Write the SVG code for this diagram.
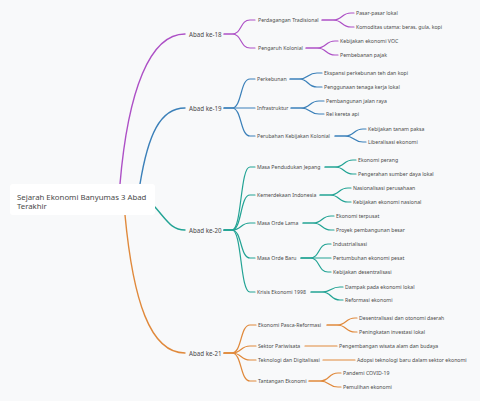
<svg xmlns="http://www.w3.org/2000/svg" width="480" height="401" viewBox="0 0 480 401">
<style>
text{font-family:"Noto Sans","DejaVu Sans",sans-serif;fill:#4a4a4a;dominant-baseline:central}
.t0{font-size:7.8px}
.t1{font-size:6.2px}
.t2{font-size:5.2px}
.t3{font-size:5.2px}
path{fill:none;stroke-linecap:round}
.p{stroke:#ad50c6}
.b{stroke:#3b80b9}
.g{stroke:#22a394}
.o{stroke:#e0893b}
.l1{stroke-width:1.4}
.l2{stroke-width:1.2}
</style>
<rect width="480" height="401" fill="#f8f9fa"/>
<g id="connectors">
<path class="p l1" d="M120 184 C128 90,150 34,185 34"/>
<path class="b l1" d="M140 184 C148 135,160 108,185 108"/>
<path class="g l1" d="M155 207 C168 222,172 230,185 230"/>
<path class="o l1" d="M125 215 C133 300,150 353,185 353"/>
<path class="p l2" d="M224 34 H232 C242 34,240 20,250 20 H255"/>
<path class="p l2" d="M224 34 H232 C242 34,240 48,250 48 H255"/>
<path class="p l2" d="M322 20 H333 C343 20,341 13,351 13 H354"/>
<path class="p l2" d="M322 20 H333 C343 20,341 27,351 27 H354"/>
<path class="p l2" d="M306 48 H317 C327 48,325 41,335 41 H338"/>
<path class="p l2" d="M306 48 H317 C327 48,325 55,335 55 H338"/>
<path class="b l2" d="M224 108 H232 C242 108,240 79,250 79 H255"/>
<path class="b l2" d="M224 108 H255"/>
<path class="b l2" d="M224 108 H232 C242 108,240 136,250 136 H255"/>
<path class="b l2" d="M290 79 H299 C309 79,307 73,317 73 H322"/>
<path class="b l2" d="M290 79 H299 C309 79,307 87,317 87 H322"/>
<path class="b l2" d="M291 108 H301 C311 108,309 101,319 101 H324"/>
<path class="b l2" d="M291 108 H301 C311 108,309 114,319 114 H324"/>
<path class="b l2" d="M335 136 H345 C355 136,353 129,363 129 H366"/>
<path class="b l2" d="M335 136 H345 C355 136,353 142,363 142 H366"/>
<path class="g l2" d="M224 230 H232 C242 230,240 167,250 167 H255"/>
<path class="g l2" d="M224 230 H232 C242 230,240 195,250 195 H255"/>
<path class="g l2" d="M224 230 H232 C242 230,240 223,250 223 H255"/>
<path class="g l2" d="M224 230 H232 C242 230,240 258,250 258 H255"/>
<path class="g l2" d="M224 230 H232 C242 230,240 292,250 292 H255"/>
<path class="g l2" d="M325 167 H335 C345 167,343 160,353 160 H356"/>
<path class="g l2" d="M325 167 H335 C345 167,343 174,353 174 H356"/>
<path class="g l2" d="M320 195 H330 C340 195,338 188,348 188 H351"/>
<path class="g l2" d="M320 195 H330 C340 195,338 202,348 202 H351"/>
<path class="g l2" d="M303 223 H313 C323 223,321 216,331 216 H334"/>
<path class="g l2" d="M303 223 H313 C323 223,321 230,331 230 H334"/>
<path class="g l2" d="M301 258 H310 C320 258,318 244,328 244 H331"/>
<path class="g l2" d="M301 258 H331"/>
<path class="g l2" d="M301 258 H310 C320 258,318 272,328 272 H331"/>
<path class="g l2" d="M311 292 H322 C332 292,330 287,340 287 H343"/>
<path class="g l2" d="M311 292 H322 C332 292,330 300,340 300 H343"/>
<path class="o l2" d="M224 353 H232 C242 353,240 325,250 325 H256"/>
<path class="o l2" d="M224 353 H232 C242 353,240 346,250 346 H256"/>
<path class="o l2" d="M224 353 H232 C242 353,240 360,250 360 H256"/>
<path class="o l2" d="M224 353 H232 C242 353,240 381,250 381 H256"/>
<path class="o l2" d="M327 325 H337 C347 325,345 318,355 318 H357"/>
<path class="o l2" d="M327 325 H337 C347 325,345 332,355 332 H357"/>
<path class="o l2" d="M305 346 H337"/>
<path class="o l2" d="M323 360 H355"/>
<path class="o l2" d="M309 381 H320 C330 381,328 373,338 373 H341"/>
<path class="o l2" d="M309 381 H320 C330 381,328 387,338 387 H341"/>
</g>
<g id="root">
<rect x="10" y="184" width="145" height="31" rx="3" fill="#ffffff"/>
<text class="t0" x="17" y="196.5">Sejarah Ekonomi Banyumas 3 Abad</text>
<text class="t0" x="17" y="206">Terakhir</text>
</g>
<g id="abad18"><text class="t1" x="189" y="34">Abad ke-18</text></g>
<g id="perdagangan"><text class="t2" x="258" y="20">Perdagangan Tradisional</text></g>
<g id="pasar"><text class="t3" x="356" y="13">Pasar-pasar lokal</text></g>
<g id="komoditas"><text class="t3" x="356" y="27">Komoditas utama: beras, gula, kopi</text></g>
<g id="pengaruh"><text class="t2" x="258" y="48">Pengaruh Kolonial</text></g>
<g id="voc"><text class="t3" x="340" y="41">Kebijakan ekonomi VOC</text></g>
<g id="pajak"><text class="t3" x="340" y="55">Pembebanan pajak</text></g>
<g id="abad19"><text class="t1" x="189" y="108">Abad ke-19</text></g>
<g id="perkebunan"><text class="t2" x="257" y="79">Perkebunan</text></g>
<g id="ekspansi"><text class="t3" x="324" y="73">Ekspansi perkebunan teh dan kopi</text></g>
<g id="tenaga"><text class="t3" x="324" y="87">Penggunaan tenaga kerja lokal</text></g>
<g id="infrastruktur"><text class="t2" x="257" y="108">Infrastruktur</text></g>
<g id="jalan"><text class="t3" x="326" y="101">Pembangunan jalan raya</text></g>
<g id="rel"><text class="t3" x="326" y="114">Rel kereta api</text></g>
<g id="perubahan"><text class="t2" x="257" y="136">Perubahan Kebijakan Kolonial</text></g>
<g id="tanampaksa"><text class="t3" x="368" y="129">Kebijakan tanam paksa</text></g>
<g id="liberalisasi"><text class="t3" x="368" y="142">Liberalisasi ekonomi</text></g>
<g id="abad20"><text class="t1" x="189" y="230">Abad ke-20</text></g>
<g id="jepang"><text class="t2" x="257" y="167">Masa Pendudukan Jepang</text></g>
<g id="perang"><text class="t3" x="358" y="160">Ekonomi perang</text></g>
<g id="pengerahan"><text class="t3" x="358" y="174">Pengerahan sumber daya lokal</text></g>
<g id="kemerdekaan"><text class="t2" x="257" y="195">Kemerdekaan Indonesia</text></g>
<g id="nasionalisasi"><text class="t3" x="353" y="188">Nasionalisasi perusahaan</text></g>
<g id="nasional"><text class="t3" x="353" y="202">Kebijakan ekonomi nasional</text></g>
<g id="ordelama"><text class="t2" x="257" y="223">Masa Orde Lama</text></g>
<g id="terpusat"><text class="t3" x="336" y="216">Ekonomi terpusat</text></g>
<g id="proyek"><text class="t3" x="336" y="230">Proyek pembangunan besar</text></g>
<g id="ordebaru"><text class="t2" x="257" y="258">Masa Orde Baru</text></g>
<g id="industrialisasi"><text class="t3" x="333" y="244">Industrialisasi</text></g>
<g id="pertumbuhan"><text class="t3" x="333" y="258">Pertumbuhan ekonomi pesat</text></g>
<g id="desentralisasi1"><text class="t3" x="333" y="272">Kebijakan desentralisasi</text></g>
<g id="krisis"><text class="t2" x="257" y="292">Krisis Ekonomi 1998</text></g>
<g id="dampak"><text class="t3" x="345" y="287">Dampak pada ekonomi lokal</text></g>
<g id="reformasi"><text class="t3" x="345" y="300">Reformasi ekonomi</text></g>
<g id="abad21"><text class="t1" x="189" y="353">Abad ke-21</text></g>
<g id="pasca"><text class="t2" x="258" y="325">Ekonomi Pasca-Reformasi</text></g>
<g id="otonomi"><text class="t3" x="359" y="318">Desentralisasi dan otonomi daerah</text></g>
<g id="investasi"><text class="t3" x="359" y="332">Peningkatan investasi lokal</text></g>
<g id="pariwisata"><text class="t2" x="258" y="346">Sektor Pariwisata</text></g>
<g id="wisata"><text class="t3" x="339" y="346">Pengembangan wisata alam dan budaya</text></g>
<g id="teknologi"><text class="t2" x="258" y="360">Teknologi dan Digitalisasi</text></g>
<g id="adopsi"><text class="t3" x="357" y="360">Adopsi teknologi baru dalam sektor ekonomi</text></g>
<g id="tantangan"><text class="t2" x="258" y="381">Tantangan Ekonomi</text></g>
<g id="pandemi"><text class="t3" x="343" y="373">Pandemi COVID-19</text></g>
<g id="pemulihan"><text class="t3" x="343" y="387">Pemulihan ekonomi</text></g>
</svg>
